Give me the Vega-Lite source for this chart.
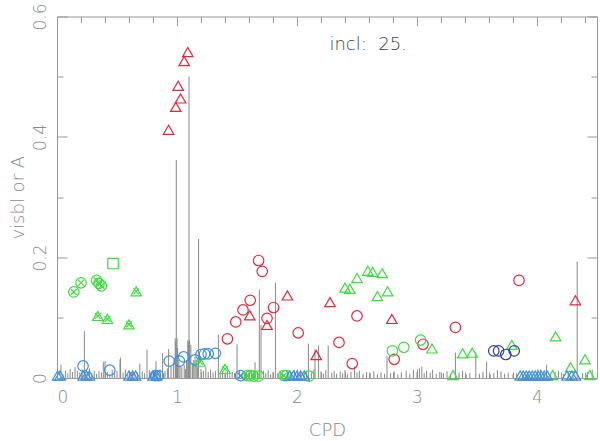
{
"$schema":"https://vega.github.io/schema/vega-lite/v6.json",
"width":540,"height":361.5,
"autosize":{"type":"none"},
"padding":{"left":57,"top":16.5,"right":3,"bottom":63},
"background":"white",
"config":{"view":{"stroke":"#999","strokeWidth":1},
"axis":{"domain":false,"grid":false,"ticks":true,"tickColor":"#999","tickWidth":1,"labelColor":"#888","labelFont":"DejaVu Sans","labelFontSize":17,"labelFontWeight":200,"titleFont":"DejaVu Sans","titleFontSize":18,"titleFontWeight":200,"titleColor":"#888"}},
"resolve":{"axis":{"x":"independent","y":"independent"}},
"datasets":{
"lines":[
{"c":0.033,"h":0.022},{"c":0.228,"h":0.078},{"c":0.386,"h":0.027},{"c":0.40,"h":0.028},{"c":0.525,"h":0.031},{"c":0.53,"h":0.034},{"c":0.69,"h":0.024},{"c":0.75,"h":0.047},{"c":0.825,"h":0.028},{"c":0.88,"h":0.041},{"c":0.93,"h":0.048},{"c":0.985,"h":0.066},{"c":0.99,"h":0.06},{"c":0.994,"h":0.362},{"c":1.0,"h":0.066},{"c":1.005,"h":0.05},{"c":1.09,"h":0.063},{"c":1.095,"h":0.06},{"c":1.10,"h":0.50},{"c":1.105,"h":0.063},{"c":1.115,"h":0.055},{"c":1.14,"h":0.03},{"c":1.15,"h":0.035},{"c":1.16,"h":0.03},{"c":1.18,"h":0.231},{"c":1.345,"h":0.072},{"c":1.50,"h":0.056},{"c":1.65,"h":0.026},{"c":1.686,"h":0.147},{"c":1.70,"h":0.088},{"c":1.82,"h":0.158},{"c":2.095,"h":0.057},{"c":2.15,"h":0.048},{"c":2.18,"h":0.054},{"c":2.26,"h":0.054},{"c":2.48,"h":0.019},{"c":2.75,"h":0.037},{"c":3.04,"h":0.019},{"c":3.32,"h":0.042},{"c":3.49,"h":0.042},{"c":3.58,"h":0.027},{"c":3.67,"h":0.013},{"c":4.03,"h":0.014},{"c":4.08,"h":0.022},{"c":4.18,"h":0.012},{"c":4.335,"h":0.193},{"c":4.46,"h":0.014},
{"c":0.05,"h":0.006},{"c":0.07,"h":0.012},{"c":0.09,"h":0.008},{"c":0.11,"h":0.015},{"c":0.13,"h":0.01},{"c":0.15,"h":0.018},{"c":0.17,"h":0.012},{"c":0.19,"h":0.009},{"c":0.21,"h":0.014},{"c":0.25,"h":0.01},{"c":0.27,"h":0.016},{"c":0.29,"h":0.008},{"c":0.31,"h":0.012},{"c":0.33,"h":0.007},{"c":0.35,"h":0.011},{"c":0.37,"h":0.009},{"c":0.42,"h":0.01},{"c":0.44,"h":0.006},{"c":0.46,"h":0.014},{"c":0.48,"h":0.008},{"c":0.50,"h":0.012},{"c":0.55,"h":0.009},{"c":0.57,"h":0.014},{"c":0.59,"h":0.007},{"c":0.61,"h":0.01},{"c":0.63,"h":0.012},{"c":0.65,"h":0.006},{"c":0.67,"h":0.009},{"c":0.71,"h":0.011},{"c":0.73,"h":0.008},{"c":0.77,"h":0.013},{"c":0.79,"h":0.007},{"c":0.81,"h":0.01},{"c":0.84,"h":0.009},{"c":0.86,"h":0.014},{"c":0.90,"h":0.012},{"c":0.92,"h":0.016},{"c":0.95,"h":0.02},{"c":0.97,"h":0.025},{"c":1.015,"h":0.03},{"c":1.025,"h":0.02},{"c":1.04,"h":0.018},{"c":1.06,"h":0.022},{"c":1.07,"h":0.015},{"c":1.08,"h":0.03},{"c":1.13,"h":0.025},{"c":1.17,"h":0.02},{"c":1.20,"h":0.015},{"c":1.22,"h":0.012},{"c":1.24,"h":0.018},{"c":1.26,"h":0.01},{"c":1.28,"h":0.014},{"c":1.30,"h":0.009},{"c":1.32,"h":0.012},{"c":1.36,"h":0.008},{"c":1.38,"h":0.011},{"c":1.40,"h":0.007},{"c":1.42,"h":0.012},{"c":1.44,"h":0.006},{"c":1.46,"h":0.01},{"c":1.48,"h":0.008},{"c":1.52,"h":0.012},{"c":1.54,"h":0.007},{"c":1.56,"h":0.01},{"c":1.58,"h":0.009},{"c":1.60,"h":0.014},{"c":1.62,"h":0.008},{"c":1.64,"h":0.011},{"c":1.67,"h":0.009},{"c":1.72,"h":0.012},{"c":1.74,"h":0.008},{"c":1.76,"h":0.013},{"c":1.78,"h":0.006},{"c":1.80,"h":0.01},{"c":1.84,"h":0.008},{"c":1.86,"h":0.012},{"c":1.88,"h":0.007},{"c":1.92,"h":0.01},{"c":1.95,"h":0.009},{"c":1.98,"h":0.013},{"c":2.01,"h":0.007},{"c":2.03,"h":0.011},{"c":2.06,"h":0.008},{"c":2.08,"h":0.012},{"c":2.12,"h":0.009},{"c":2.14,"h":0.014},{"c":2.20,"h":0.011},{"c":2.22,"h":0.007},{"c":2.24,"h":0.013},{"c":2.29,"h":0.009},{"c":2.31,"h":0.012},{"c":2.33,"h":0.007},{"c":2.36,"h":0.011},{"c":2.38,"h":0.008},{"c":2.40,"h":0.013},{"c":2.42,"h":0.006},{"c":2.45,"h":0.01},{"c":2.50,"h":0.009},{"c":2.52,"h":0.012},{"c":2.55,"h":0.007},{"c":2.58,"h":0.01},{"c":2.61,"h":0.008},{"c":2.64,"h":0.011},{"c":2.67,"h":0.006},{"c":2.70,"h":0.009},{"c":2.73,"h":0.007},{"c":2.78,"h":0.008},{"c":2.81,"h":0.011},{"c":2.84,"h":0.006},{"c":2.87,"h":0.009},{"c":2.91,"h":0.012},{"c":2.94,"h":0.007},{"c":2.97,"h":0.014},{"c":3.00,"h":0.01},{"c":3.02,"h":0.016},{"c":3.06,"h":0.008},{"c":3.08,"h":0.012},{"c":3.11,"h":0.009},{"c":3.13,"h":0.014},{"c":3.16,"h":0.007},{"c":3.19,"h":0.01},{"c":3.22,"h":0.008},{"c":3.25,"h":0.011},{"c":3.28,"h":0.006},{"c":3.35,"h":0.009},{"c":3.38,"h":0.012},{"c":3.41,"h":0.006},{"c":3.44,"h":0.008},{"c":3.52,"h":0.007},{"c":3.55,"h":0.01},{"c":3.61,"h":0.006},{"c":3.64,"h":0.008},{"c":3.70,"h":0.011},{"c":3.73,"h":0.007},{"c":3.76,"h":0.009},{"c":3.80,"h":0.006},{"c":3.83,"h":0.008},{"c":3.88,"h":0.007},{"c":3.92,"h":0.01},{"c":3.96,"h":0.006},{"c":4.00,"h":0.009},{"c":4.06,"h":0.008},{"c":4.11,"h":0.006},{"c":4.15,"h":0.01},{"c":4.22,"h":0.007},{"c":4.26,"h":0.009},{"c":4.30,"h":0.006},{"c":4.38,"h":0.008},{"c":4.42,"h":0.01}
],
"pts":[
{"c":0.93,"v":0.412,"k":"red_tri"},{"c":0.99,"v":0.45,"k":"red_tri"},{"c":1.01,"v":0.485,"k":"red_tri"},{"c":1.03,"v":0.464,"k":"red_tri"},{"c":1.06,"v":0.526,"k":"red_tri"},{"c":1.09,"v":0.541,"k":"red_tri"},{"c":1.606,"v":0.104,"k":"red_tri"},{"c":1.75,"v":0.088,"k":"red_tri"},{"c":1.92,"v":0.137,"k":"red_tri"},{"c":2.16,"v":0.038,"k":"red_tri"},{"c":2.275,"v":0.126,"k":"red_tri"},{"c":2.79,"v":0.098,"k":"red_tri"},{"c":4.32,"v":0.129,"k":"red_tri"},
{"c":1.42,"v":0.065,"k":"red_circ"},{"c":1.49,"v":0.093,"k":"red_circ"},{"c":1.55,"v":0.113,"k":"red_circ"},{"c":1.61,"v":0.129,"k":"red_circ"},{"c":1.68,"v":0.195,"k":"red_circ"},{"c":1.71,"v":0.177,"k":"red_circ"},{"c":1.75,"v":0.099,"k":"red_circ"},{"c":1.805,"v":0.117,"k":"red_circ"},{"c":2.01,"v":0.075,"k":"red_circ"},{"c":2.35,"v":0.059,"k":"red_circ"},{"c":2.46,"v":0.024,"k":"red_circ"},{"c":2.50,"v":0.103,"k":"red_circ"},{"c":2.81,"v":0.031,"k":"red_circ"},{"c":3.05,"v":0.056,"k":"red_circ"},{"c":3.32,"v":0.084,"k":"red_circ"},{"c":3.85,"v":0.162,"k":"red_circ"},
{"c":2.40,"v":0.150,"k":"green_tri"},{"c":2.44,"v":0.148,"k":"green_tri"},{"c":2.50,"v":0.166,"k":"green_tri"},{"c":2.59,"v":0.178,"k":"green_tri"},{"c":2.63,"v":0.176,"k":"green_tri"},{"c":2.71,"v":0.174,"k":"green_tri"},{"c":2.67,"v":0.136,"k":"green_tri"},{"c":2.755,"v":0.144,"k":"green_tri"},{"c":3.125,"v":0.049,"k":"green_tri"},{"c":3.30,"v":0.005,"k":"green_tri"},{"c":3.38,"v":0.041,"k":"green_tri"},{"c":3.46,"v":0.042,"k":"green_tri"},{"c":3.79,"v":0.055,"k":"green_tri"},{"c":4.13,"v":0.005,"k":"green_tri"},{"c":4.155,"v":0.069,"k":"green_tri"},{"c":4.28,"v":0.018,"k":"green_tri"},{"c":4.40,"v":0.031,"k":"green_tri"},{"c":4.44,"v":0.005,"k":"green_tri"},
{"c":2.795,"v":0.045,"k":"green_circ"},{"c":2.89,"v":0.051,"k":"green_circ"},{"c":3.03,"v":0.063,"k":"green_circ"},{"c":1.61,"v":0.004,"k":"green_circ"},{"c":1.68,"v":0.003,"k":"green_circ"},{"c":1.91,"v":0.004,"k":"green_circ"},{"c":2.10,"v":0.003,"k":"green_circ"},
{"c":0.14,"v":0.143,"k":"green_xcirc"},{"c":0.20,"v":0.158,"k":"green_xcirc"},{"c":0.33,"v":0.162,"k":"green_xcirc"},{"c":0.35,"v":0.157,"k":"green_xcirc"},{"c":0.37,"v":0.153,"k":"green_xcirc"},{"c":1.585,"v":0.004,"k":"green_xcirc"},{"c":1.64,"v":0.003,"k":"green_xcirc"},{"c":1.89,"v":0.004,"k":"green_xcirc"},
{"c":0.467,"v":0.190,"k":"green_sq"},
{"c":0.34,"v":0.103,"k":"green_xtri"},{"c":0.42,"v":0.098,"k":"green_xtri"},{"c":0.60,"v":0.089,"k":"green_xtri"},{"c":0.66,"v":0.144,"k":"green_xtri"},{"c":1.19,"v":0.027,"k":"green_xtri"},{"c":1.40,"v":0.015,"k":"green_xtri"},
{"c":0.217,"v":0.020,"k":"blue_circ"},{"c":0.44,"v":0.013,"k":"blue_circ"},{"c":0.845,"v":0.004,"k":"blue_circ"},{"c":0.935,"v":0.028,"k":"blue_circ"},{"c":1.02,"v":0.028,"k":"blue_circ"},{"c":1.055,"v":0.035,"k":"blue_circ"},{"c":1.15,"v":0.030,"k":"blue_circ"},{"c":1.20,"v":0.039,"k":"blue_circ"},{"c":1.23,"v":0.040,"k":"blue_circ"},{"c":1.26,"v":0.040,"k":"blue_circ"},{"c":1.32,"v":0.041,"k":"blue_circ"},
{"c":0.82,"v":0.004,"k":"blue_xcirc"},{"c":1.53,"v":0.004,"k":"blue_xcirc"},
{"c":0.005,"v":0.004,"k":"blue_tri"},{"c":0.025,"v":0.004,"k":"blue_tri"},{"c":0.217,"v":0.004,"k":"blue_tri"},{"c":0.245,"v":0.004,"k":"blue_tri"},{"c":0.27,"v":0.004,"k":"blue_tri"},{"c":0.60,"v":0.004,"k":"blue_tri"},{"c":0.63,"v":0.004,"k":"blue_tri"},{"c":0.655,"v":0.004,"k":"blue_tri"},{"c":0.80,"v":0.004,"k":"blue_tri"},{"c":0.83,"v":0.004,"k":"blue_tri"},{"c":1.94,"v":0.004,"k":"blue_tri"},{"c":1.97,"v":0.004,"k":"blue_tri"},{"c":2.0,"v":0.004,"k":"blue_tri"},{"c":2.03,"v":0.004,"k":"blue_tri"},{"c":2.06,"v":0.004,"k":"blue_tri"},{"c":3.86,"v":0.004,"k":"blue_tri"},{"c":3.885,"v":0.004,"k":"blue_tri"},{"c":3.91,"v":0.004,"k":"blue_tri"},{"c":3.935,"v":0.004,"k":"blue_tri"},{"c":3.96,"v":0.004,"k":"blue_tri"},{"c":3.985,"v":0.004,"k":"blue_tri"},{"c":4.01,"v":0.004,"k":"blue_tri"},{"c":4.035,"v":0.004,"k":"blue_tri"},{"c":4.06,"v":0.004,"k":"blue_tri"},{"c":4.085,"v":0.004,"k":"blue_tri"},{"c":4.25,"v":0.004,"k":"blue_tri"},{"c":4.29,"v":0.004,"k":"blue_tri"},{"c":4.32,"v":0.004,"k":"blue_tri"},
{"c":3.64,"v":0.045,"k":"navy_circ"},{"c":3.68,"v":0.045,"k":"navy_circ"},{"c":3.74,"v":0.039,"k":"navy_circ"},{"c":3.81,"v":0.045,"k":"navy_circ"}
],
"label":[{"c":2.27,"v":0.553,"t":"incl:\u00a0\u00a025."}]
},
"layer":[
{"data":{"name":"lines"},"mark":{"type":"rule","color":"#888","strokeWidth":1},
"encoding":{
"x":{"field":"c","type":"quantitative","scale":{"domain":[0,4.5],"nice":false,"zero":false},"axis":{"orient":"bottom","offset":-9,"values":[0,1,2,3,4],"format":"d","tickSize":9,"labelPadding":11,"title":"CPD","titlePadding":16}},
"y":{"field":"h","type":"quantitative","scale":{"domain":[0,0.6],"nice":false},"axis":{"orient":"left","ticks":false,"values":[0,0.2,0.4,0.6],"labelExpr":"datum.value == 0 ? '0' : format(datum.value, '.1f')","labelAngle":-90,"labelAlign":"center","labelBaseline":"alphabetic","labelPadding":12,"title":"visbl or A","titlePadding":4}},
"y2":{"datum":0}}},
{"data":{"name":"pts"},"transform":[{"filter":"datum.k != 'navy_circ'"}],"mark":{"type":"point","filled":false,"strokeWidth":1.2,"size":110,"opacity":1},
"encoding":{
"x":{"field":"c","type":"quantitative","scale":{"domain":[0,4.5],"nice":false,"zero":false},"axis":{"orient":"bottom","offset":-6,"values":[0.2,0.4,0.6,0.8,1.2,1.4,1.6,1.8,2.2,2.4,2.6,2.8,3.2,3.4,3.6,3.8,4.2,4.4],"tickSize":6,"labels":false,"title":null}},
"y":{"field":"v","type":"quantitative","scale":{"domain":[0,0.6],"nice":false},"axis":{"orient":"left","offset":-6,"values":[0.1,0.3,0.5],"tickSize":6,"labels":false,"title":null}},
"shape":{"field":"k","type":"nominal","legend":null,"scale":{"domain":["red_tri","red_circ","green_tri","green_circ","green_xcirc","green_sq","green_xtri","blue_circ","blue_xcirc","blue_tri","navy_circ"],"range":["triangle-up","circle","triangle-up","circle","circle","square","triangle-up","circle","circle","triangle-up","circle"]}},
"color":{"field":"k","type":"nominal","legend":null,"scale":{"domain":["red_tri","red_circ","green_tri","green_circ","green_xcirc","green_sq","green_xtri","blue_circ","blue_xcirc","blue_tri","navy_circ"],"range":["#e3283a","#e3283a","#3ddc3d","#3ddc3d","#3ddc3d","#3ddc3d","#3ddc3d","#3a8fe6","#3a8fe6","#3a8fe6","#2c3e9c"]}}}},
{"data":{"name":"pts"},"transform":[{"filter":"datum.k == 'navy_circ'"}],"mark":{"type":"point","filled":false,"strokeWidth":1.2,"size":110,"opacity":1,"shape":"circle"},
"encoding":{
"x":{"field":"c","type":"quantitative","scale":{"domain":[0,4.5],"nice":false,"zero":false},"axis":null},
"y":{"field":"v","type":"quantitative","scale":{"domain":[0,0.6],"nice":false},"axis":{"orient":"left","offset":-10,"values":[0,0.2,0.4,0.6],"tickSize":10,"labels":false,"title":null}},
"color":{"field":"k","type":"nominal","legend":null,"scale":{"domain":["red_tri","red_circ","green_tri","green_circ","green_xcirc","green_sq","green_xtri","blue_circ","blue_xcirc","blue_tri","navy_circ"],"range":["#e3283a","#e3283a","#3ddc3d","#3ddc3d","#3ddc3d","#3ddc3d","#3ddc3d","#3a8fe6","#3a8fe6","#3a8fe6","#2c3e9c"]}}}},
{"data":{"name":"pts"},"transform":[{"filter":{"field":"k","oneOf":["green_xcirc","green_xtri","blue_xcirc"]}}],
"mark":{"type":"point","filled":false,"strokeWidth":1.2,"size":110,"opacity":1,"shape":"M-0.55,-0.55L0.55,0.55M-0.55,0.55L0.55,-0.55"},
"encoding":{
"x":{"field":"c","type":"quantitative","scale":{"domain":[0,4.5],"nice":false,"zero":false},"axis":{"orient":"top","offset":-9,"values":[0,1,2,3,4],"tickSize":9,"labels":false,"title":null}},
"y":{"field":"v","type":"quantitative","scale":{"domain":[0,0.6],"nice":false},"axis":{"orient":"right","offset":-10,"values":[0,0.2,0.4,0.6],"tickSize":10,"labels":false,"title":null}},
"color":{"field":"k","type":"nominal","legend":null,"scale":{"domain":["red_tri","red_circ","green_tri","green_circ","green_xcirc","green_sq","green_xtri","blue_circ","blue_xcirc","blue_tri","navy_circ"],"range":["#e3283a","#e3283a","#3ddc3d","#3ddc3d","#3ddc3d","#3ddc3d","#3ddc3d","#3a8fe6","#3a8fe6","#3a8fe6","#2c3e9c"]}}}},
{"data":{"name":"label"},"mark":{"type":"text","align":"left","baseline":"middle","font":"DejaVu Sans","fontSize":18,"fontWeight":200,"color":"#444"},
"encoding":{
"x":{"field":"c","type":"quantitative","scale":{"domain":[0,4.5],"nice":false,"zero":false},"axis":{"orient":"top","offset":-6,"values":[0.2,0.4,0.6,0.8,1.2,1.4,1.6,1.8,2.2,2.4,2.6,2.8,3.2,3.4,3.6,3.8,4.2,4.4],"tickSize":6,"labels":false,"title":null}},
"y":{"field":"v","type":"quantitative","scale":{"domain":[0,0.6],"nice":false},"axis":{"orient":"right","offset":-6,"values":[0.1,0.3,0.5],"tickSize":6,"labels":false,"title":null}},
"text":{"field":"t"}}}
]
}
